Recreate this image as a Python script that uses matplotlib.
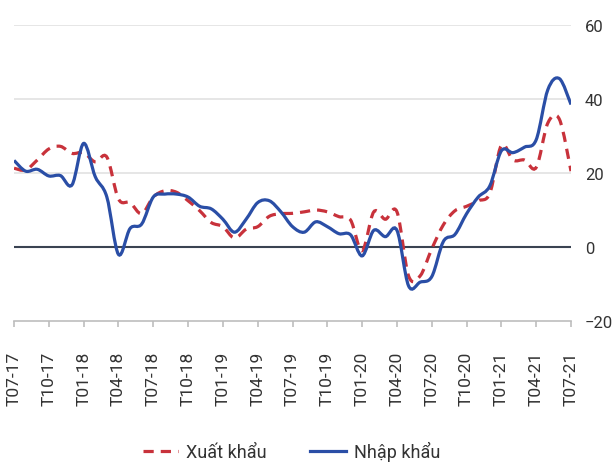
import numpy as np
import matplotlib
matplotlib.use("Agg")
import matplotlib.pyplot as plt
from matplotlib.path import Path
from matplotlib.patches import PathPatch
from matplotlib.lines import Line2D

plt.rcParams['font.family'] = ['Roboto', 'DejaVu Sans']

# monthly growth (%), T07-17 .. T07-21
xuat_khau = [21.3, 20.8, 23.5, 26.5, 27.2, 25.3, 25.5, 23.0, 24.3, 13.0,
             12.0, 9.0, 13.5, 15.2, 14.8, 12.5, 9.8, 6.6, 5.5, 2.4,
             4.8, 5.5, 8.3, 9.0, 9.1, 9.5, 10.0, 9.5, 8.2, 7.3,
             -1.0, 9.5, 7.5, 9.5, -7.8, -7.8, -0.5, 6.0, 9.8, 11.0,
             12.5, 14.5, 27.5, 23.5, 23.5, 21.5, 33.5, 34.5, 20.5]
nhap_khau = [23.4, 20.5, 21.0, 19.2, 19.3, 16.8, 28.0, 19.0, 13.5, -2.0,
             5.0, 6.2, 13.5, 14.3, 14.3, 13.5, 11.0, 10.3, 7.5, 4.0,
             7.5, 12.0, 12.5, 9.5, 5.5, 4.0, 6.8, 5.5, 3.6, 3.3,
             -2.4, 4.5, 2.8, 4.5, -10.5, -9.5, -8.0, 1.5, 3.4, 9.0,
             13.5, 16.5, 26.0, 25.5, 27.0, 29.0, 42.5, 45.5, 38.5]
tick_labels = ["T07-17", "T10-17", "T01-18", "T04-18", "T07-18", "T10-18",
               "T01-19", "T04-19", "T07-19", "T10-19", "T01-20", "T04-20",
               "T07-20", "T10-20", "T01-21", "T04-21", "T07-21"]

RED = "#C8323B"
BLUE = "#2A4EA6"


def smooth_path(y):
    # Catmull-Rom style bezier through monthly points (like Excel smoothed line)
    pts = np.column_stack([np.arange(len(y)), y]).astype(float)
    verts = [pts[0]]
    codes = [Path.MOVETO]
    n = len(pts)
    for i in range(n - 1):
        p0 = pts[i - 1] if i > 0 else pts[i]
        p1 = pts[i]
        p2 = pts[i + 1]
        p3 = pts[i + 2] if i + 2 < n else pts[i + 1]
        c1 = p1 + (p2 - p0) / 6.0
        c2 = p2 - (p3 - p1) / 6.0
        verts += [c1, c2, p2]
        codes += [Path.CURVE4] * 3
    return Path(verts, codes)


fig = plt.figure(figsize=(6.15, 4.64), dpi=100)
ax = fig.add_axes([0.0228, 0.306, 0.9057, 0.638])

ax.set_xlim(0, 48)
ax.set_ylim(-20, 60)

for g in [20, 40, 60]:
    ax.axhline(g, color="#E2E2E2", lw=1.2, zorder=1)
ax.axhline(0, color="#3A4352", lw=1.5, zorder=2)

ax.add_patch(PathPatch(smooth_path(xuat_khau), fill=False, edgecolor=RED,
                       lw=2.3, linestyle=(0, (3.2, 2.2)), zorder=3))
ax.add_patch(PathPatch(smooth_path(nhap_khau), fill=False, edgecolor=BLUE,
                       lw=2.3, zorder=4))

for s in ["top", "left", "right"]:
    ax.spines[s].set_visible(False)
ax.spines["bottom"].set_color("#BDBDBD")
ax.spines["bottom"].set_linewidth(1.2)

ax.set_xticks(np.arange(0, 49, 3))
ax.set_xticklabels(tick_labels, rotation=90, fontsize=12.5, color="#333333")
ax.tick_params(axis="x", direction="out", length=4.3, color="#BDBDBD", width=1.2, pad=17)

ax.yaxis.tick_right()
ax.set_yticks([-20, 0, 20, 40, 60])
ax.tick_params(axis="y", length=0, labelsize=12, labelcolor="#333333", pad=10)

handles = [Line2D([], [], color=RED, lw=2.3, linestyle=(0, (3.2, 2.2))),
           Line2D([], [], color=BLUE, lw=2.3)]
fig.legend(handles, ["Xuất khẩu", "Nhập khẩu"], loc="center",
           bbox_to_anchor=(0.474, 0.026), ncol=2, frameon=False,
           fontsize=13, handlelength=1.95, handletextpad=0.45,
           columnspacing=2.4, labelcolor="#333333")

fig.savefig("out.png", dpi=100)
